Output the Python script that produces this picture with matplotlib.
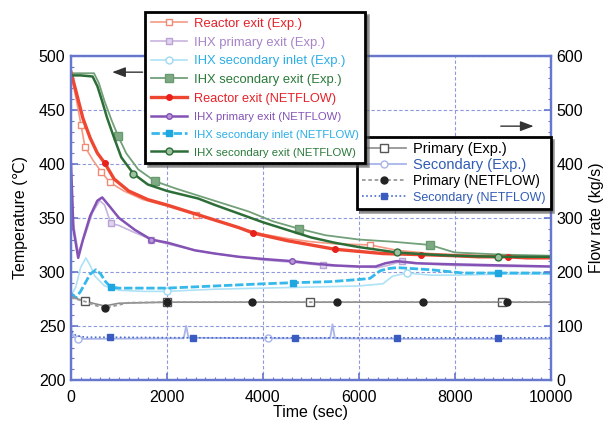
import matplotlib
matplotlib.use("Agg")
import matplotlib.pyplot as plt
from matplotlib.ticker import MultipleLocator

plt.rcParams['font.family'] = ['Liberation Sans', 'DejaVu Sans']

# ---- temperature data (degC) ----
t_rx_exp = [0, 100, 210, 290, 450, 625, 810, 1100, 1500, 2000, 2600, 3000, 3500, 4000, 4500, 5000, 5500, 6230, 6800, 7500, 8000, 9000, 10000]
T_rx_exp = [483, 462, 436, 416, 404, 393, 383, 375, 367, 361, 353, 348, 341, 335, 331, 328, 326, 325, 320, 317, 316, 315, 314]

t_rx_nf = [0, 100, 250, 400, 550, 700, 900, 1200, 1600, 2000, 2500, 3000, 3500, 3800, 4500, 5000, 5500, 6000, 6500, 7300, 8000, 8500, 9100, 9500, 10000]
T_rx_nf = [485, 468, 442, 424, 410, 401, 386, 375, 367, 362, 355, 348, 341, 336, 329, 325, 321, 319, 317, 316, 315, 314, 314, 313, 313]

t_pe_exp = [0, 50, 150, 300, 450, 600, 700, 830, 1000, 1300, 1670, 2000, 2600, 3000, 3500, 4000, 4600, 5250, 5800, 6400, 6600, 6900, 7500, 8000, 9000, 10000]
T_pe_exp = [395, 345, 318, 335, 355, 366, 362, 345, 343, 337, 330, 326, 320, 317, 314, 311, 309, 306, 305, 304, 306, 310, 307, 306, 305, 305]

t_pe_nf = [0, 50, 150, 250, 400, 550, 650, 800, 1000, 1330, 1670, 2020, 2580, 3000, 3500, 4000, 4600, 5000, 5500, 6000, 6350, 6550, 6790, 7200, 8000, 9000, 10000]
T_pe_nf = [400, 340, 313, 330, 352, 366, 369, 361, 350, 339, 330, 327, 320, 317, 314, 312, 310, 308, 306, 305, 305, 308, 310, 308, 307, 306, 305]

t_si_exp = [0, 100, 200, 310, 400, 500, 700, 1000, 1500, 2000, 3000, 4000, 5000, 6000, 6500, 6700, 7000, 7500, 8000, 9000, 10000]
T_si_exp = [278, 286, 304, 313, 306, 296, 287, 283, 282, 282, 284, 285, 286, 287, 289, 296, 299, 297, 297, 298, 298]

t_si_nf = [0, 100, 200, 300, 400, 520, 620, 720, 830, 1000, 1330, 2000, 3000, 4000, 4630, 5400, 6000, 6230, 6440, 6600, 6790, 7500, 8170, 8900, 10000]
T_si_nf = [280, 276, 282, 290, 298, 302, 298, 291, 286, 285, 285, 285, 287, 289, 290, 291, 293, 294, 301, 303, 304, 302, 299, 299, 299]

t_se_exp = [0, 200, 480, 580, 700, 850, 980, 1150, 1400, 1750, 2200, 2700, 3200, 3700, 4200, 4750, 5300, 6000, 6700, 7480, 8000, 9000, 10000]
T_se_exp = [484, 484, 484, 475, 458, 440, 426, 410, 395, 384, 377, 370, 363, 356, 347, 340, 334, 330, 328, 325, 318, 316, 315]

t_se_nf = [0, 200, 450, 550, 650, 750, 900, 1050, 1300, 1600, 2000, 2650, 3000, 3500, 4000, 4500, 5000, 5500, 6000, 6790, 7500, 8000, 8900, 10000]
T_se_nf = [482, 482, 481, 472, 458, 443, 424, 406, 391, 381, 375, 368, 362, 354, 346, 339, 332, 327, 323, 318, 316, 315, 314, 314]

# ---- flow rate data (kg/s) ----
t_pri_exp = [0, 100, 290, 500, 700, 1000, 2000, 4980, 8980, 10000]
F_pri_exp = [155, 151, 146, 141, 137, 142, 144, 144, 144, 144]

t_pri_nf = [0, 100, 300, 500, 710, 900, 1200, 2000, 3770, 5540, 7330, 9080, 10000]
F_pri_nf = [152, 150, 145, 138, 133, 137, 143, 144, 144, 144, 144, 144, 144]

t_sec_exp = [0, 50, 150, 400, 2000, 2350, 2400, 2450, 4100, 5400, 5450, 5500, 7000, 10000]
F_sec_exp = [95, 80, 76, 76, 77, 77, 100, 78, 77, 77, 103, 77, 76, 76]

t_sec_nf = [0, 30, 100, 300, 810, 2540, 4670, 6790, 8900, 10000]
F_sec_nf = [98, 90, 82, 79, 79, 78, 78, 78, 78, 78]

fig = plt.figure(figsize=(6.12, 4.24), dpi=100)
ax = fig.add_axes([0.116, 0.104, 0.784, 0.764])
ax2 = ax.twinx()

frame = '#6677cc'
gridc = '#8f98dc'

# temperature curves
h1, = ax.plot(t_rx_exp, T_rx_exp, color='#f59a84', lw=1.2, marker='s', ms=5, mfc='white', mec='#f08a74', mew=1, markevery=[2, 3, 5, 6, 10, 17])
h2, = ax.plot(t_pe_exp, T_pe_exp, color='#c8b4de', lw=1.2, marker='s', ms=5, mfc='#e0d4ee', mec='#b9a2d6', mew=1, markevery=[7, 10, 17, 21])
h3, = ax.plot(t_si_exp, T_si_exp, color='#aee2f6', lw=1.2, marker='o', ms=5, mfc='white', mec='#9fdaf2', mew=1, markevery=[9, 16])
h4, = ax.plot(t_se_exp, T_se_exp, color='#72a079', lw=1.3, marker='s', ms=6, mfc='#7fa985', mec='#6a9a70', markevery=[6, 9, 15, 19])
h5, = ax.plot(t_rx_nf, T_rx_nf, color='#ef4632', lw=2.4, marker='o', ms=4, mfc='#e8201c', mec='#e8201c', markevery=[5, 13, 16, 19, 22])
h6, = ax.plot(t_pe_nf, T_pe_nf, color='#8452b5', lw=1.8, marker='o', ms=4, mfc='#b99ad8', mec='#8452b5', markevery=[10, 16])
h7, = ax.plot(t_si_nf, T_si_nf, color='#35b8ea', lw=2.0, ls=(0, (3, 1)), marker='s', ms=4, mfc='#1ea6e0', mec='#1ea6e0', markevery=[8, 14, 23])
h8, = ax.plot(t_se_nf, T_se_nf, color='#2d6e38', lw=1.8, marker='o', ms=5, mfc='#9cc0a0', mec='#2d6e38', markevery=[8, 19, 22])

# flow rate curves
g1, = ax2.plot(t_pri_exp, F_pri_exp, color='#8c8c8c', lw=1.2, marker='s', ms=6, mfc='white', mec='#555555', markevery=[2, 6, 7, 8])
g2, = ax2.plot(t_sec_exp, F_sec_exp, color='#a8b4ea', lw=1.3, marker='o', ms=5, mfc='white', mec='#a8b4ea', markevery=[2, 8])
g3, = ax2.plot(t_pri_nf, F_pri_nf, color='#9a9a9a', lw=1.3, ls=(0, (2, 1.5)), marker='o', ms=5, mfc='#222222', mec='#222222', markevery=[4, 7, 8, 9, 10, 11])
g4, = ax2.plot(t_sec_nf, F_sec_nf, color='#4a6cc8', lw=1.2, ls=(0, (1, 1.5)), marker='s', ms=4, mfc='#3a5cc0', mec='#3a5cc0', markevery=[4, 5, 6, 7, 8])

ax.set_xlim(0, 10000)
ax.set_ylim(200, 500)
ax2.set_ylim(0, 600)
ax.xaxis.set_major_locator(MultipleLocator(2000))
ax.xaxis.set_minor_locator(MultipleLocator(200))
ax.yaxis.set_major_locator(MultipleLocator(50))
ax.yaxis.set_minor_locator(MultipleLocator(10))
ax2.yaxis.set_major_locator(MultipleLocator(100))
ax2.yaxis.set_minor_locator(MultipleLocator(20))

ax.grid(True, which='major', color=gridc, ls=(0, (3, 2)), lw=0.8)
for a in (ax, ax2):
    for s in a.spines.values():
        s.set_color(frame)
        s.set_linewidth(1.6)
    a.tick_params(which='both', direction='in', color=frame, labelsize=11.5, pad=4)
    a.tick_params(which='major', length=5, width=1.2)
    a.tick_params(which='minor', length=2.5, width=0.8)
ax.tick_params(axis='x', pad=7)
ax.tick_params(axis='y', which='both', right=False)
ax2.tick_params(axis='y', which='both', left=False)

ax.set_xlabel('Time (sec)', fontsize=11.5, labelpad=0)
ax.set_ylabel('Temperature (℃)', fontsize=11.5, labelpad=8)
ax2.set_ylabel('Flow rate (kg/s)', fontsize=11.5, labelpad=4)

# arrows pointing to the axis each group belongs to
ax.annotate('', xy=(800, 485), xytext=(1550, 485),
            arrowprops=dict(arrowstyle='-|>,head_length=0.8,head_width=0.3', color='#333333', lw=1.0))
ax.annotate('', xy=(9700, 435), xytext=(8900, 435),
            arrowprops=dict(arrowstyle='-|>,head_length=0.8,head_width=0.3', color='#333333', lw=1.0))

# legends
leg1 = fig.legend([h1, h2, h3, h4, h5, h6, h7, h8],
                  ['Reactor exit (Exp.)', 'IHX primary exit (Exp.)', 'IHX secondary inlet (Exp.)',
                   'IHX secondary exit (Exp.)', 'Reactor exit (NETFLOW)', 'IHX primary exit (NETFLOW)',
                   'IHX secondary inlet (NETFLOW)', 'IHX secondary exit (NETFLOW)'],
                  loc='upper left', bbox_to_anchor=(0.237, 0.972), fontsize=9.4,
                  frameon=True, fancybox=False, shadow=True, framealpha=1,
                  edgecolor='black', handlelength=2.8, handletextpad=0.5,
                  labelspacing=0.5, borderpad=0.45, borderaxespad=0)
leg1.get_frame().set_linewidth(2.0)
cols1 = ['#e62129', '#a883c8', '#2aaee6', '#2a7a3a', '#e62129', '#8452b5', '#2aaee6', '#2a7a3a']
for i, (txt, c) in enumerate(zip(leg1.get_texts(), cols1)):
    txt.set_color(c)
    if i >= 4:
        txt.set_fontsize(8.2 if i != 4 else 9.2)

leg2 = ax2.legend([g1, g2, g3, g4],
                  ['Primary (Exp.)', 'Secondary (Exp.)', 'Primary (NETFLOW)', 'Secondary (NETFLOW)'],
                  loc='upper left', bbox_to_anchor=(0.583, 0.677), bbox_transform=fig.transFigure,
                  fontsize=10.5, frameon=True, fancybox=False, shadow=True, framealpha=1,
                  edgecolor='black', handlelength=3.0, handletextpad=0.5,
                  labelspacing=0.15, borderpad=0.35, borderaxespad=0)
leg2.get_frame().set_linewidth(2.0)
cols2 = ['black', '#2f5cb5', 'black', '#2f5cb5']
for i, (txt, c) in enumerate(zip(leg2.get_texts(), cols2)):
    txt.set_color(c)
    if i == 2:
        txt.set_fontsize(9.8)
    if i == 3:
        txt.set_fontsize(9.0)

fig.savefig('out.png', dpi=100)
